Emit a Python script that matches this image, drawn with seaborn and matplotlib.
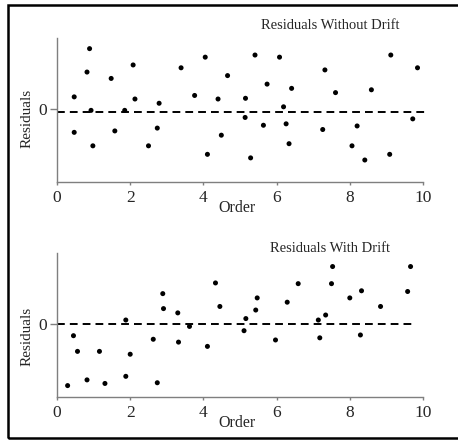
import matplotlib
matplotlib.use("Agg")
import matplotlib.pyplot as plt
import seaborn as sns
import pandas as pd
from matplotlib.patches import Rectangle

# ---- data ----
top_order = [0.47, 0.47, 0.89, 0.82, 0.93, 0.98, 1.48, 1.58, 1.85, 2.08, 2.13, 2.50,
             2.79, 2.74, 3.39, 3.76, 4.05, 4.11, 4.40, 4.49, 4.66, 5.15, 5.14, 5.29,
             5.41, 5.64, 5.74, 6.08, 6.19, 6.26, 6.34, 6.41, 7.26, 7.32, 7.61, 8.06,
             8.20, 8.41, 8.59, 9.09, 9.12, 9.72, 9.85]
top_resid = [0.17, -0.33, 0.85, 0.52, -0.02, -0.52, 0.43, -0.31, -0.02, 0.62, 0.14, -0.52,
             0.08, -0.27, 0.58, 0.19, 0.73, -0.64, 0.14, -0.37, 0.47, 0.15, -0.12, -0.69,
             0.76, -0.23, 0.35, 0.73, 0.03, -0.21, -0.49, 0.29, -0.29, 0.55, 0.23, -0.52,
             -0.24, -0.72, 0.27, -0.64, 0.76, -0.14, 0.58]

bottom_order = [0.29, 0.45, 0.56, 0.82, 1.16, 1.31, 1.88, 1.88, 2.00, 2.63, 2.74, 2.89,
                2.91, 3.30, 3.32, 3.62, 4.11, 4.33, 4.45, 5.11, 5.16, 5.43, 5.47, 5.97,
                6.29, 6.59, 7.14, 7.18, 7.34, 7.50, 7.53, 8.00, 8.29, 8.32, 8.84, 9.58, 9.66]
bottom_resid = [-0.87, -0.17, -0.39, -0.79, -0.39, -0.84, -0.74, 0.05, -0.43, -0.22, -0.83, 0.42,
                0.21, 0.15, -0.26, -0.04, -0.32, 0.57, 0.24, -0.10, 0.07, 0.19, 0.36, -0.23,
                0.30, 0.56, 0.05, -0.20, 0.12, 0.56, 0.80, 0.36, -0.16, 0.46, 0.24, 0.45, 0.80]

top_ref = -0.05
bottom_ref = 0.0
x_ticks = [0, 2, 4, 6, 8, 10]
y_ticks = [0]
titles = ["Residuals Without Drift", "Residuals With Drift"]
x_label = "Order"
y_label = "Residuals"

# ---- style ----
sns.set_style("white")
plt.rcParams['font.family'] = ['Liberation Serif', 'DejaVu Serif']

W, H = 458, 440
fig = plt.figure(figsize=(W / 100, H / 100), dpi=100)
fig.patch.set_facecolor("white")


def ax_at(l, t, r, b):
    return fig.add_axes([l / W, 1 - b / H, (r - l) / W, (b - t) / H])


# outer frame
fig.patches.append(Rectangle((8 / W, 1 - 438 / H), 1.2, (438 - 5) / H, fill=False,
                             edgecolor="black", linewidth=1.8,
                             transform=fig.transFigure, figure=fig))

panels = [
    dict(box=(57, 38, 423, 182), x=top_order, y=top_resid, ref=top_ref, xmax=1.006,
         ylim=(-1.03, 1.0), title=titles[0], title_y=29, ylab_y=118),
    dict(box=(57, 253, 423, 397), x=bottom_order, y=bottom_resid, ref=bottom_ref, xmax=0.98,
         ylim=(-1.03, 0.99), title=titles[1], title_y=252, ylab_y=336),
]

gray = "#7f7f7f"
for p in panels:
    l, t, r, b = p["box"]
    ax = ax_at(l, t, r, b)
    df = pd.DataFrame({"Order": p["x"], "Residuals": p["y"]})
    sns.scatterplot(data=df, x="Order", y="Residuals", ax=ax, color="black",
                    s=13, edgecolor="none", zorder=3)
    ax.axhline(p["ref"], xmin=0, xmax=p["xmax"], color="black", lw=1.4,
               ls=(0, (4.0, 2.6)), clip_on=False, zorder=2)
    ax.set_xlim(0, 10)
    ax.set_ylim(*p["ylim"])
    ax.set_xticks(x_ticks)
    ax.set_yticks(y_ticks)
    for s in ["top", "right"]:
        ax.spines[s].set_visible(False)
    for s in ["left", "bottom"]:
        ax.spines[s].set_color(gray)
        ax.spines[s].set_linewidth(1.0)
    ax.tick_params(axis="x", length=2, width=1, color=gray, labelsize=12.5, pad=4,
                   bottom=True)
    ax.tick_params(axis="y", length=5, width=1, color=gray, labelsize=12.5, pad=2,
                   left=True)
    ax.set_facecolor("white")
    ax.set_xlabel(x_label, fontsize=11.5, va="baseline")
    ax.xaxis.set_label_coords((237 - l) / (r - l), -(212 - 182) / (b - t))
    ax.set_ylabel(y_label, fontsize=11, va="center", ha="center")
    ax.yaxis.set_label_coords((27 - l) / (r - l), 1 - (p["ylab_y"] - t) / (b - t))
    fig.text(330 / W, 1 - p["title_y"] / H, p["title"], ha="center", va="baseline",
             fontsize=10.5)

fig.savefig("out.png", dpi=100, facecolor="white")
